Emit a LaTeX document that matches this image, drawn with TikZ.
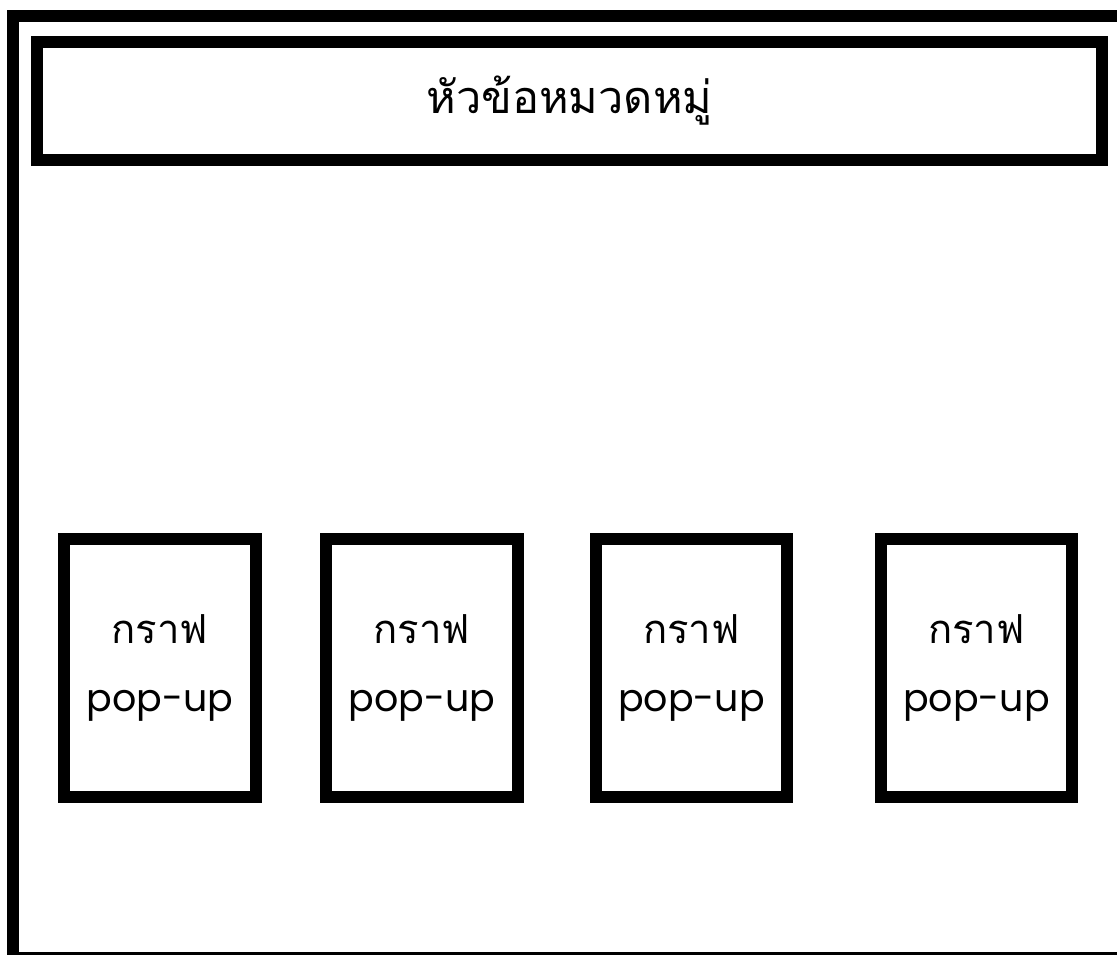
\documentclass[tikz,border=0pt]{standalone}
\usepackage{fontspec}
\newfontfamily\thaifont[Script=Thai]{Loma}
\newfontfamily\latinfont{Poppins}
\newcommand\popup{{\latinfont\fontsize{38}{68}\selectfont pop-up}}
\begin{document}
\begin{tikzpicture}[x=1pt,y=-1pt,
  frame/.style={draw=black,line width=12pt,rectangle,inner sep=0pt,outer sep=0pt},
  titlebox/.style={frame,minimum width=1065pt,minimum height=118pt,font=\thaifont\fontsize{45}{56}\selectfont},
  graphbox/.style={frame,minimum width=192pt,minimum height=258pt,align=center,font=\thaifont\fontsize{40}{68}\selectfont}]
\useasboundingbox (0,0) rectangle (1117,955);
\clip (0,0) rectangle (1117,955);
\node[frame,minimum width=1112pt,minimum height=942pt] (outer) at (569,487) {};
\node[titlebox] (title) at (569.5,101) {หัวข้อหมวดหมู่};
\node[graphbox] (g1) at (160,668) {กราฟ\\\popup};
\node[graphbox] (g2) at (422,668) {กราฟ\\\popup};
\node[graphbox,minimum width=191pt] (g3) at (691.5,668) {กราฟ\\\popup};
\node[graphbox,minimum width=191pt] (g4) at (976.5,668) {กราฟ\\\popup};
\end{tikzpicture}
\end{document}
